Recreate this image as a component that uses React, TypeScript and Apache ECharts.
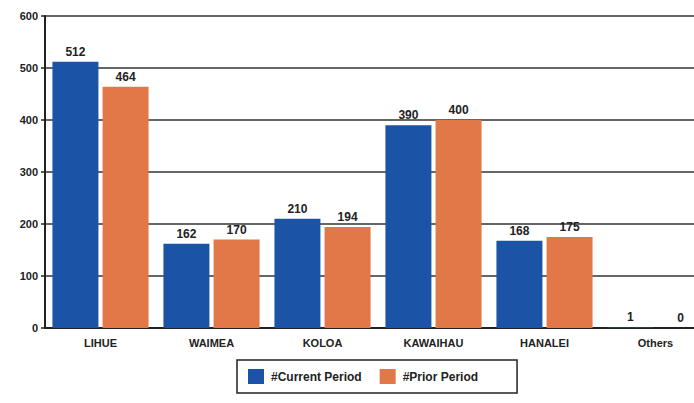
import React, { useEffect, useRef } from "react";
import * as echarts from "echarts";

const categories = ["LIHUE", "WAIMEA", "KOLOA", "KAWAIHAU", "HANALEI", "Others"];
const currentPeriod = [512, 162, 210, 390, 168, 1];
const priorPeriod = [464, 170, 194, 400, 175, 0];
const yTicks = [0, 100, 200, 300, 400, 500, 600];

export default function App() {
  const ref = useRef<HTMLDivElement>(null);
  useEffect(() => {
    if (!ref.current) return;
    const chart = echarts.init(ref.current, undefined, { renderer: "svg" });
    const font = "'Liberation Sans', Arial, sans-serif";
    const labelStyle = {
      show: true,
      position: "top" as const,
      color: "#222",
      fontFamily: font,
      fontWeight: "bold" as const,
      fontSize: 12,
      distance: 4,
    };
    chart.setOption({
      animation: false,
      backgroundColor: "#ffffff",
      grid: { left: 45, top: 16, width: 666, height: 312, containLabel: false },
      legend: {
        top: 360,
        left: 237,
        itemWidth: 16,
        itemHeight: 15,
        itemGap: 18,
        icon: "rect",
        borderColor: "#222",
        borderWidth: 1.5,
        padding: [9, 39, 9, 11],
        textStyle: { fontFamily: font, fontSize: 12, color: "#222", fontWeight: "bold", padding: [0, 0, 0, 2] },
        data: ["#Current Period", "#Prior Period"],
      },
      xAxis: {
        type: "category",
        data: categories,
        axisLine: { show: true, lineStyle: { color: "#222", width: 2 } },
        axisTick: { show: false },
        axisLabel: {
          color: "#222",
          fontFamily: font,
          fontSize: 11,
          fontWeight: "bold",
          margin: 9,
        },
      },
      yAxis: {
        type: "value",
        min: yTicks[0],
        max: yTicks[yTicks.length - 1],
        interval: 100,
        axisLine: { show: true, lineStyle: { color: "#222", width: 2 } },
        axisTick: { show: true, length: 4, lineStyle: { color: "#222", width: 1.5 } },
        splitLine: { show: true, lineStyle: { color: "#333", width: 1.5 } },
        axisLabel: {
          color: "#222",
          fontFamily: font,
          fontSize: 11,
          fontWeight: "bold",
          margin: 7,
        },
      },
      series: [
        {
          name: "#Current Period",
          type: "bar",
          data: currentPeriod,
          barWidth: 46,
          barGap: "9%",
          itemStyle: { color: "#1b54a7" },
          label: labelStyle,
        },
        {
          name: "#Prior Period",
          type: "bar",
          data: priorPeriod,
          barWidth: 46,
          itemStyle: { color: "#e27747" },
          label: labelStyle,
        },
      ],
    });
    return () => chart.dispose();
  }, []);
  return (
    <div
      style={{ position: "fixed", left: 0, top: 0, width: 694, height: 403, overflow: "hidden", background: "#fff" }}
    >
      <div ref={ref} style={{ width: 720, height: 403 }} />
    </div>
  );
}
